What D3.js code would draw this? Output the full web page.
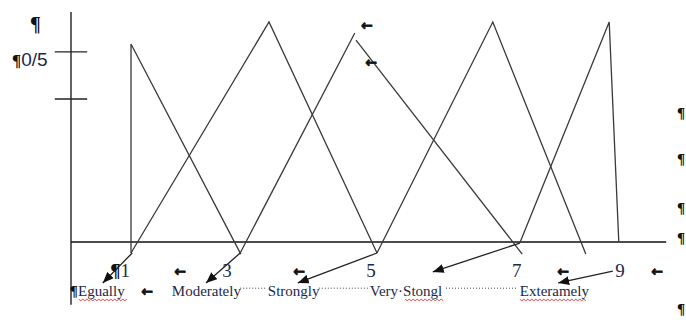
<!DOCTYPE html>
<html><head><meta charset="utf-8">
<script src="https://cdn.jsdelivr.net/npm/d3@7"></script>
<style>body{margin:0;background:#fff}svg{display:block}</style>
</head><body><svg id="c" width="686" height="320"></svg>
<script>
// ---- data (x: scale units, y: membership) ----
const membershipLines = [
  [[1.0, -0.05], [1.0, 0.9], [2.83, -0.055]],
  [[1.0, -0.05], [3.3, 1.0], [5.1, -0.05]],
  [[2.82, -0.05], [4.73, 0.95]],
  [[4.75, 0.918], [7.52, -0.055]],
  [[5.1, -0.05], [7.03, 1.0], [8.58, -0.055]],
  [[7.48, -0.005], [8.97, 1.0], [9.13, 0]]
];
const numberLabels = [["¶", "1"], ["", "3"], ["", "5"], ["", "7"], ["", "9"]];
const numberX = [0.82, 2.6, 5.0, 7.43, 9.15];
const categories = ["Egually", "Moderately", "Strongly", "Very·Stongl", "Exteramely"];
const categoryX = [0.117, 1.68, 3.28, 4.98, 7.48];
const misspelled = [[0.13, 0.95], [5.57, 6.23], [7.48, 8.6]];
const leaders = [[2.82, 3.25], [4.13, 4.95], [6.25, 7.45]];
const arrows = [
  [[1.02, -0.05], [0.53, -0.186]],
  [[2.82, -0.05], [2.25, -0.186]],
  [[5.1, -0.05], [3.78, -0.186]],
  [[7.48, -0.005], [6.03, -0.136]],
  [[9.03, -0.132], [8.12, -0.186]]
];
const arrowGlyphs = [[1.817, -0.132], [3.8, -0.132], [8.2, -0.132], [9.77, -0.132], [1.267, -0.223], [4.93, 0.986], [5.0, 0.814]];
const yTicks = [0.864, 0.65];
const yTickLabels = [["¶", ""], ["¶", "0/5"]];
const yTickLabelY = [0.96, 0.8];
const marginMarksY = [0.59, 0.38, 0.16, 0.025, -0.30];

// ---- scales ----
const x = d3.scaleLinear().domain([0, 10]).range([71, 671]);
const y = d3.scaleLinear().domain([0, 1]).range([242, 22]);
const svg = d3.select("#c");
const ink = "#1c2a48";

svg.append("defs").append("marker")
  .attr("id", "ah").attr("markerUnits", "userSpaceOnUse")
  .attr("markerWidth", 12).attr("markerHeight", 9)
  .attr("refX", 11).attr("refY", 4.5).attr("orient", "auto")
  .append("path").attr("d", "M0,0 L11,4.5 L0,9 Z").attr("fill", "#111");

// axes
svg.append("line").attr("x1", x(0)).attr("x2", x(0)).attr("y1", y(1.045)).attr("y2", y(-0.285))
  .attr("stroke", "#222").attr("stroke-width", 1.4);
svg.append("line").attr("x1", x(0)).attr("x2", x(9.92)).attr("y1", y(0)).attr("y2", y(0))
  .attr("stroke", "#111").attr("stroke-width", 1.5);
svg.selectAll(".tk").data(yTicks).enter().append("line")
  .attr("x1", x(-0.27)).attr("x2", x(0.27)).attr("y1", d => y(d)).attr("y2", d => y(d))
  .attr("stroke", "#222").attr("stroke-width", 1.3);

const yl = svg.selectAll(".yl").data(yTickLabels).enter().append("text")
  .attr("x", 12).attr("y", (d, i) => y(yTickLabelY[i]))
  .attr("fill", "#111");
yl.append("tspan").attr("font-family", "Liberation Serif").attr("font-weight", "bold")
  .attr("font-size", (d, i) => i === 0 ? 20 : 17).attr("dx", (d, i) => i === 0 ? 18 : 0).text(d => d[0]);
yl.append("tspan").attr("font-family", "Liberation Sans").attr("font-size", 19).attr("fill", ink).text(d => d[1]);

// membership triangles
const line = d3.line().x(d => x(d[0])).y(d => y(d[1]));
svg.selectAll(".mf").data(membershipLines).enter().append("path")
  .attr("d", line).attr("fill", "none").attr("stroke", "#3a3a3a").attr("stroke-width", 1.3);

// arrows
svg.selectAll(".ar").data(arrows).enter().append("path")
  .attr("d", line).attr("fill", "none").attr("stroke", "#222").attr("stroke-width", 1.3)
  .attr("marker-end", "url(#ah)");

// numbers
const nums = svg.selectAll(".num").data(numberLabels).enter().append("text")
  .attr("x", (d, i) => x(numberX[i])).attr("y", y(-0.159)).attr("text-anchor", "middle")
  .attr("font-family", "Liberation Serif").attr("font-size", 19).attr("fill", ink);
nums.append("tspan").attr("font-weight", "bold").attr("fill", "#111").text(d => d[0]);
nums.append("tspan").text(d => d[1]);

// category labels
svg.append("text").attr("x", x(-0.02)).attr("y", y(-0.245)).attr("font-family", "Liberation Serif")
  .attr("font-weight", "bold").attr("font-size", 15).attr("fill", "#111").text("¶");
svg.selectAll(".cat").data(categories).enter().append("text")
  .attr("x", (d, i) => x(categoryX[i])).attr("y", y(-0.245))
  .attr("font-family", "Liberation Serif").attr("font-size", 15).attr("fill", ink).text(d => d);

// dotted leaders
svg.selectAll(".ld").data(leaders).enter().append("line")
  .attr("x1", d => x(d[0])).attr("x2", d => x(d[1])).attr("y1", y(-0.21)).attr("y2", y(-0.21))
  .attr("stroke", "#445").attr("stroke-width", 1).attr("stroke-dasharray", "1,2");

// spell-check squiggles
function wave(a, b, yy) {
  let p = `M${a},${yy}`, k = 0;
  for (let xx = a + 2; xx <= b; xx += 2) { k++; p += ` L${xx},${yy + (k % 2 ? 1.5 : 0)}`; }
  return p;
}
svg.selectAll(".sq").data(misspelled).enter().append("path")
  .attr("d", d => wave(x(d[0]), x(d[1]), y(-0.26)))
  .attr("fill", "none").attr("stroke", "#e03030").attr("stroke-width", 0.9);

// small arrow glyphs
svg.selectAll(".ag").data(arrowGlyphs).enter().append("text")
  .attr("x", d => x(d[0])).attr("y", d => y(d[1]) + 4.5).attr("text-anchor", "middle")
  .attr("font-family", "DejaVu Sans").attr("font-weight", "bold").attr("font-size", 14)
  .attr("fill", "#111").attr("stroke", "#111").attr("stroke-width", 0.7).text("←");

// margin paragraph marks
svg.selectAll(".pm").data(marginMarksY).enter().append("text")
  .attr("x", 677).attr("y", d => y(d) + 6).attr("font-family", "Liberation Serif")
  .attr("font-weight", "bold").attr("font-size", 15).attr("fill", "#111").text("¶");
</script></body></html>
